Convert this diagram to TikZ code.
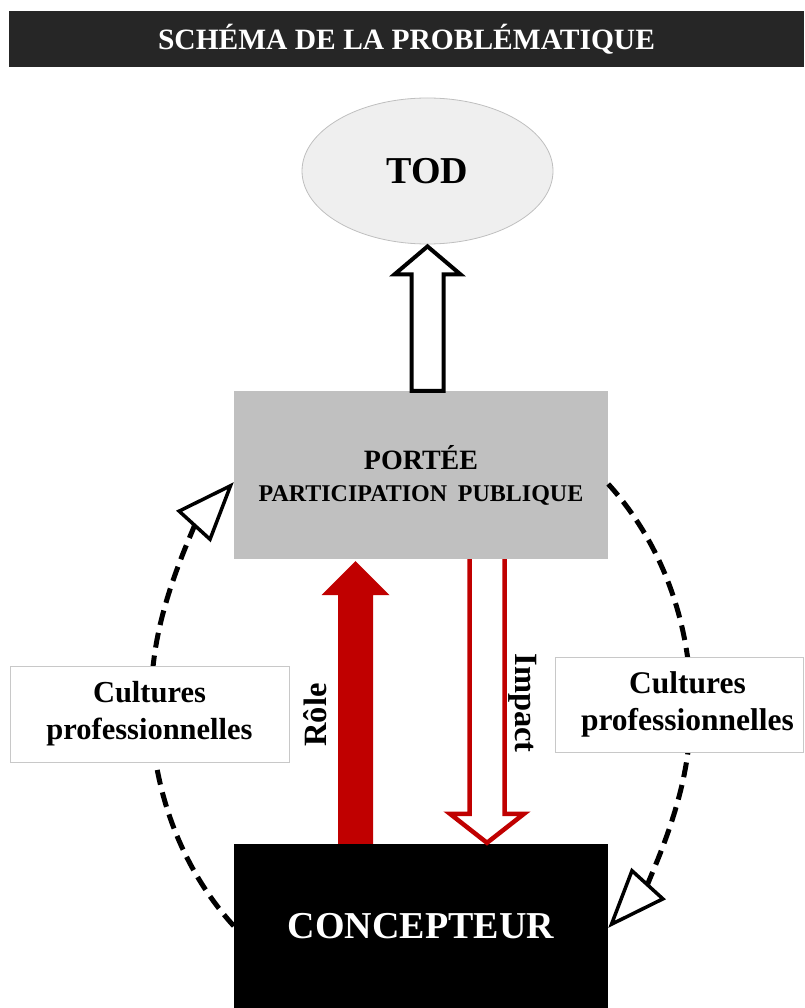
\documentclass[tikz,border=0pt]{standalone}
\usepackage{fontspec}
\setmainfont{Liberation Serif}
\usetikzlibrary{arrows.meta,calc,shapes.geometric}
\definecolor{barcol}{HTML}{262626}
\definecolor{redarrow}{HTML}{C00000}
\definecolor{boxgray}{HTML}{C0C0C0}
\definecolor{todfill}{HTML}{EFEFEF}
\definecolor{todline}{HTML}{BFBFBF}
\definecolor{labelline}{HTML}{C8C8C8}

\begin{document}
\begin{tikzpicture}[x=1pt,y=-1pt,
  every node/.style={font=\bfseries},
  titlebar/.style={fill=barcol, text=white, minimum width=795pt, minimum height=56pt, inner sep=0pt,
    font=\bfseries\fontsize{29.5}{32}\selectfont},
  todnode/.style={ellipse, draw=todline, line width=0.8pt, fill=todfill, minimum width=251pt, minimum height=146pt, inner sep=0pt,
    font=\bfseries\fontsize{38}{40}\selectfont},
  portebox/.style={fill=boxgray, minimum width=374pt, minimum height=168pt, inner sep=0pt, align=center,
    font=\bfseries\fontsize{28}{32}\selectfont},
  conceptbox/.style={fill=black, text=white, minimum width=374pt, minimum height=164pt, inner sep=0pt,
    font=\bfseries\fontsize{38}{40}\selectfont},
  labelbox/.style={draw=labelline, line width=0.8pt, fill=white, inner sep=0pt, align=center},
  arrowtext/.style={font=\bfseries\fontsize{32.5}{34}\selectfont},
  cycleline/.style={line width=5pt, dash pattern=on 15pt off 8pt,
    -{Triangle[length=60pt, width=46pt, fill=white, line width=3.5pt, sep=0pt]}},
  hollowup/.style={draw=black, line width=4pt, fill=white, line join=miter},
  solidred/.style={fill=redarrow},
  hollowred/.style={draw=redarrow, line width=4.5pt, fill=white, line join=miter}
]
\useasboundingbox (0,0) rectangle (804,1008);

% title banner
\node[titlebar] (title) at (406.5,39) {SCHÉMA DE LA PROBLÉMATIQUE};

% main blocks
\node[todnode] (tod) at (427.5,171) {TOD};
\node[portebox] (portee) at (421,475) {PORTÉE\\
  {\fontsize{24}{32}\selectfont PARTICIPATION\hspace{0.45em}PUBLIQUE}};
\node[conceptbox] (concepteur) at (421,926) {CONCEPTEUR};

% hollow arrow from the grey block up to TOD
\coordinate (ub) at (tod.south |- portee.north);
\draw[hollowup] ($(tod.south)+(0,2)$) -- ++(33,28) -- ++(-17,0)
  -- ($(ub)+(16,0)$) -- ($(ub)+(-16,0)$) -- ($(tod.south)+(-16,30)$)
  -- ++(-17,0) -- cycle;

% solid red arrow (role)
\coordinate (rb) at ($(concepteur.north)+(-65.5,0)$);
\coordinate (rt) at ($(portee.south)+(-65.5,2)$);
\fill[solidred] (rt) -- ($(rt)+(34,34)$) -- ($(rt)+(17.5,34)$)
  -- ($(rb)+(17.5,0)$) -- ($(rb)+(-17.5,0)$) -- ($(rt)+(-17.5,34)$)
  -- ($(rt)+(-34,34)$) -- cycle;

% hollow red arrow (impact)
\coordinate (it) at ($(portee.south)+(66,0)$);
\coordinate (ib) at ($(concepteur.north)+(66,-1)$);
\filldraw[hollowred] ($(it)+(-17.5,0)$) -- ($(ib)+(-17.5,-29)$) -- ($(ib)+(-37,-29)$)
  -- (ib) -- ($(ib)+(37,-29)$) -- ($(ib)+(17.5,-29)$) -- ($(it)+(17.5,0)$);

\node[arrowtext, rotate=90] (role) at (315,715) {Rôle};
\node[arrowtext, rotate=-90] (impact) at (523,703) {Impact};

% dashed loop on both sides
\draw[cycleline] (concepteur.west) arc[start angle=133.9, end angle=226.1, x radius=270, y radius=308];
\draw[cycleline] ($(portee.east)+(0,9)$) arc[start angle=-46.1, end angle=46.1, x radius=270, y radius=308];

% labels on the loop
\node[labelbox, minimum width=279pt, minimum height=96pt, font=\bfseries\fontsize{30.5}{37}\selectfont] (cpl) at (149.5,714)
  {Cultures\\professionnelles};
\node[labelbox, minimum width=248pt, minimum height=95pt, font=\bfseries\fontsize{31.5}{37}\selectfont] (cpr) at (679,704.5)
  {\hspace*{17pt}Cultures\\\hspace*{17pt}professionnelles};
\end{tikzpicture}
\end{document}
